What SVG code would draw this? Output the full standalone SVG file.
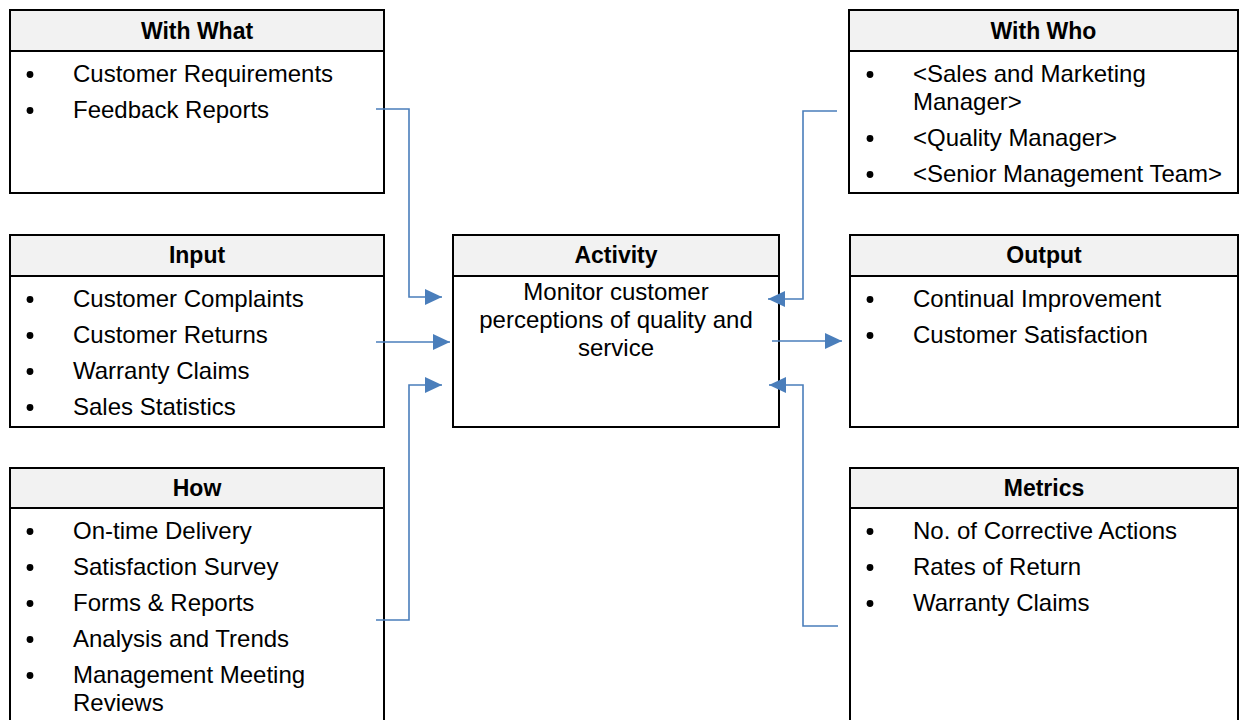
<svg xmlns="http://www.w3.org/2000/svg" width="1240" height="720" viewBox="0 0 1240 720">
  <style>
    .box { fill: #ffffff; stroke: #000000; stroke-width: 2; }
    .head { fill: #f2f2f2; stroke: #000000; stroke-width: 2; }
    .title { font-family: "Liberation Sans", Arial, sans-serif; font-size: 23px; font-weight: bold; fill: #000000; text-anchor: middle; }
    .item { font-family: "Liberation Sans", Arial, sans-serif; font-size: 24px; fill: #000000; }
    .mid { text-anchor: middle; }
    .dot { fill: #000000; }
    .conn { fill: none; stroke: #4a7ebb; stroke-width: 1.6; }
  </style>
  <defs>
    <marker id="arrow" markerUnits="userSpaceOnUse" markerWidth="17" markerHeight="16" refX="17" refY="8" orient="auto">
      <path d="M0,0 L17,8 L0,16 z" fill="#4a7ebb"/>
    </marker>
  </defs>
  <rect width="1240" height="720" fill="#ffffff"/>

  <!-- left column -->
  <g id="with-what">
    <rect class="box" x="10" y="10" width="374" height="183"/>
    <rect class="head" x="10" y="10" width="374" height="41"/>
    <text class="title" x="197" y="38.5">With What</text>
    <circle class="dot" cx="30" cy="74.5" r="3.4"/><text class="item" x="73" y="81.5">Customer Requirements</text>
    <circle class="dot" cx="30" cy="110.5" r="3.4"/><text class="item" x="73" y="117.5">Feedback Reports</text>
  </g>

  <g id="input">
    <rect class="box" x="10" y="235" width="374" height="192"/>
    <rect class="head" x="10" y="235" width="374" height="41"/>
    <text class="title" x="197" y="263">Input</text>
    <circle class="dot" cx="30" cy="299.5" r="3.4"/><text class="item" x="73" y="306.5">Customer Complaints</text>
    <circle class="dot" cx="30" cy="335.5" r="3.4"/><text class="item" x="73" y="342.5">Customer Returns</text>
    <circle class="dot" cx="30" cy="371.5" r="3.4"/><text class="item" x="73" y="378.5">Warranty Claims</text>
    <circle class="dot" cx="30" cy="407.5" r="3.4"/><text class="item" x="73" y="414.5">Sales Statistics</text>
  </g>

  <g id="how">
    <rect class="box" x="10" y="468" width="374" height="280"/>
    <rect class="head" x="10" y="468" width="374" height="40"/>
    <text class="title" x="197" y="496">How</text>
    <circle class="dot" cx="30" cy="531.5" r="3.4"/><text class="item" x="73" y="538.5">On-time Delivery</text>
    <circle class="dot" cx="30" cy="567.5" r="3.4"/><text class="item" x="73" y="574.5">Satisfaction Survey</text>
    <circle class="dot" cx="30" cy="603.5" r="3.4"/><text class="item" x="73" y="610.5">Forms &amp; Reports</text>
    <circle class="dot" cx="30" cy="639.5" r="3.4"/><text class="item" x="73" y="646.5">Analysis and Trends</text>
    <circle class="dot" cx="30" cy="675.5" r="3.4"/><text class="item" x="73" y="682.5">Management Meeting</text>
    <text class="item" x="73" y="710.5">Reviews</text>
  </g>

  <!-- centre -->
  <g id="activity">
    <rect class="box" x="453" y="235" width="326" height="192"/>
    <rect class="head" x="453" y="235" width="326" height="41"/>
    <text class="title" x="616" y="263">Activity</text>
    <text class="item mid" x="616" y="299.5">Monitor customer</text>
    <text class="item mid" x="616" y="327.5">perceptions of quality and</text>
    <text class="item mid" x="616" y="355.5">service</text>
  </g>

  <!-- right column -->
  <g id="with-who">
    <rect class="box" x="849" y="10" width="389" height="183"/>
    <rect class="head" x="849" y="10" width="389" height="41"/>
    <text class="title" x="1043.5" y="38.5">With Who</text>
    <circle class="dot" cx="870" cy="74.5" r="3.4"/><text class="item" x="913" y="81.5">&lt;Sales and Marketing</text>
    <text class="item" x="913" y="109.5">Manager&gt;</text>
    <circle class="dot" cx="870" cy="138.5" r="3.4"/><text class="item" x="913" y="145.5">&lt;Quality Manager&gt;</text>
    <circle class="dot" cx="870" cy="174.5" r="3.4"/><text class="item" x="913" y="181.5">&lt;Senior Management Team&gt;</text>
  </g>

  <g id="output">
    <rect class="box" x="850" y="235" width="388" height="192"/>
    <rect class="head" x="850" y="235" width="388" height="41"/>
    <text class="title" x="1044" y="263">Output</text>
    <circle class="dot" cx="870" cy="299.5" r="3.4"/><text class="item" x="913" y="306.5">Continual Improvement</text>
    <circle class="dot" cx="870" cy="335.5" r="3.4"/><text class="item" x="913" y="342.5">Customer Satisfaction</text>
  </g>

  <g id="metrics">
    <rect class="box" x="850" y="468" width="388" height="280"/>
    <rect class="head" x="850" y="468" width="388" height="40"/>
    <text class="title" x="1044" y="496">Metrics</text>
    <circle class="dot" cx="870" cy="531.5" r="3.4"/><text class="item" x="913" y="538.5">No. of Corrective Actions</text>
    <circle class="dot" cx="870" cy="567.5" r="3.4"/><text class="item" x="913" y="574.5">Rates of Return</text>
    <circle class="dot" cx="870" cy="603.5" r="3.4"/><text class="item" x="913" y="610.5">Warranty Claims</text>
  </g>

  <!-- connectors -->
  <g id="connectors">
    <path class="conn" d="M376,109 H409 V297 H442" marker-end="url(#arrow)"/>
    <path class="conn" d="M376,342 H450" marker-end="url(#arrow)"/>
    <path class="conn" d="M376,620 H409 V385 H442" marker-end="url(#arrow)"/>
    <path class="conn" d="M837,111 H803 V299 H768" marker-end="url(#arrow)"/>
    <path class="conn" d="M772,341 H842" marker-end="url(#arrow)"/>
    <path class="conn" d="M838,626 H803 V385 H769" marker-end="url(#arrow)"/>
  </g>
</svg>
